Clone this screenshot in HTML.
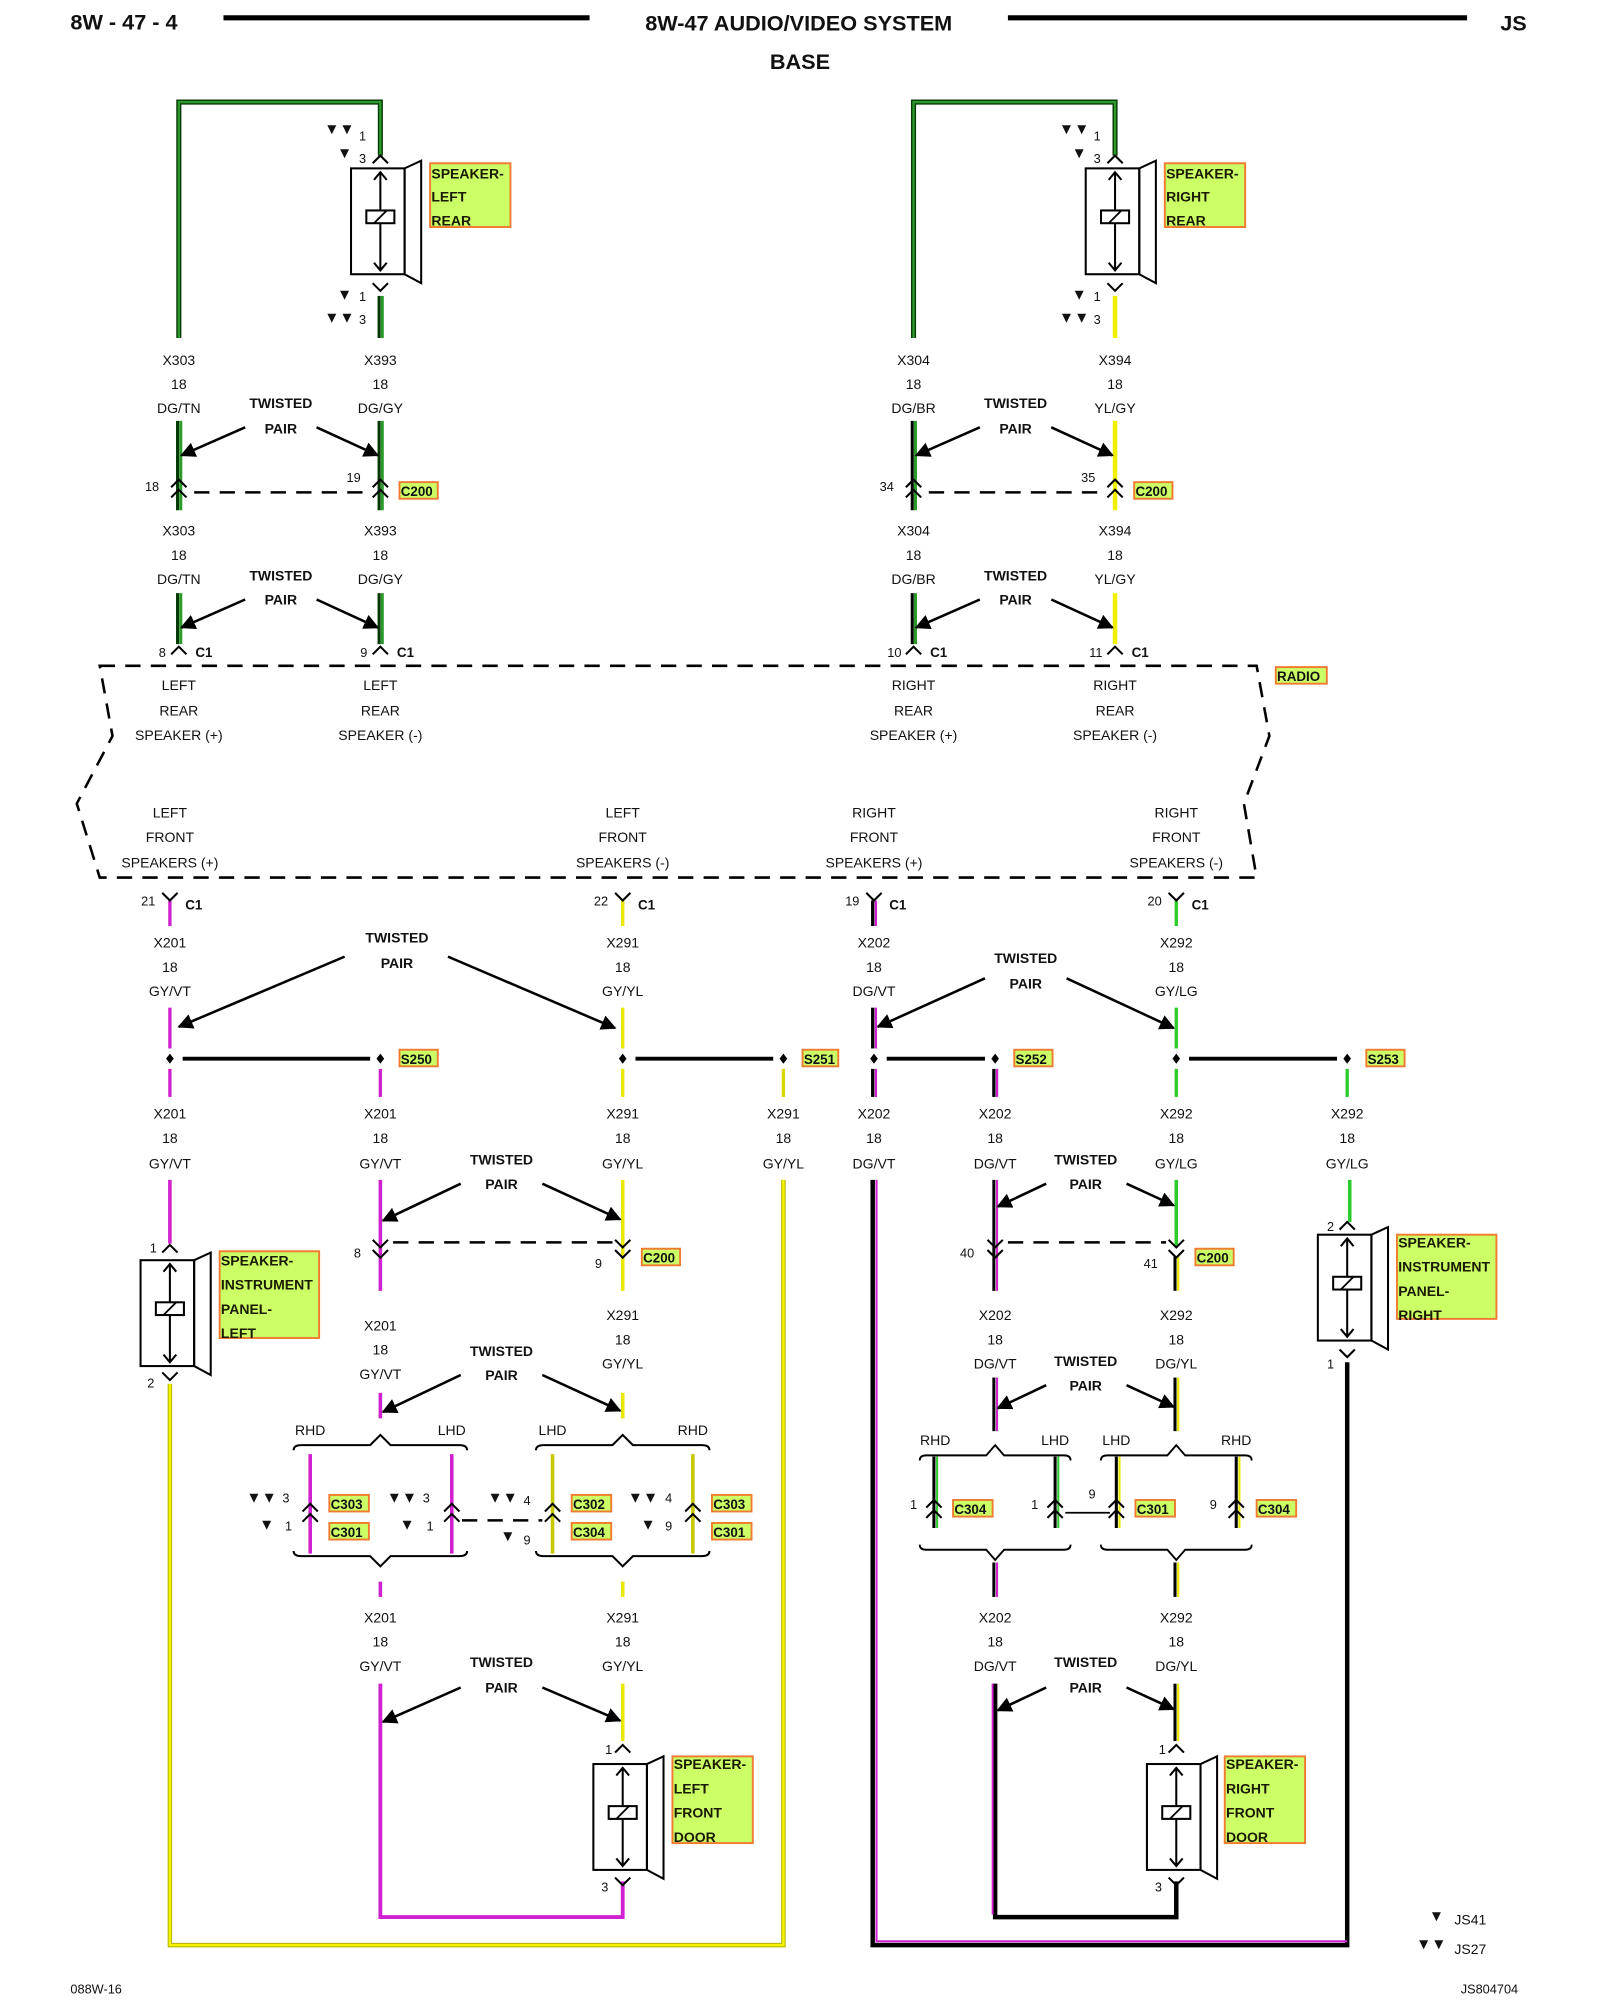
<!DOCTYPE html>
<html><head><meta charset="utf-8"><style>
html,body{margin:0;padding:0;background:#fff;}
svg{display:block;}
text{font-family:"Liberation Sans",sans-serif;font-size:11px;fill:#111;text-anchor:middle;}
.b{font-weight:bold;}
.h{font-weight:bold;font-size:17px;text-anchor:start;}
.l{text-anchor:start;}
.t{text-anchor:start;font-size:12px;}
.lb{font-weight:bold;font-size:11px;text-anchor:start;fill:#1a1a00;}
.sm{font-weight:bold;font-size:10.5px;text-anchor:start;fill:#111;}
.box{fill:#ccff66;stroke:#f07a30;stroke-width:1.5;}
.ar{stroke:#000;stroke-width:2;marker-end:url(#ah);}
.dash{stroke:#000;stroke-width:2;stroke-dasharray:12 8;fill:none;}
</style></head><body>
<svg width="1600" height="2000" viewBox="0 0 1254 1568" xmlns="http://www.w3.org/2000/svg">
<defs>
<marker id="ah" viewBox="0 0 10 10" refX="9" refY="5" markerWidth="6" markerHeight="6" orient="auto"><path d="M0,0 L10,5 L0,10 z" fill="#000"/></marker>
<g id="spk">
<rect x="-23" y="0" width="42" height="83" fill="none" stroke="#000" stroke-width="1.6"/>
<polygon points="19,0 32,-6 32,90 19,83" fill="none" stroke="#000" stroke-width="1.6"/>
<line x1="0" y1="3" x2="0" y2="80" stroke="#000" stroke-width="1.6"/>
<path d="M-5,9 L0,3 L5,9 M-5,74 L0,80 L5,74" fill="none" stroke="#000" stroke-width="1.6"/>
<rect x="-11" y="33" width="22" height="10" fill="#fff" stroke="#000" stroke-width="1.6"/>
<line x1="-5" y1="43" x2="5" y2="33" stroke="#000" stroke-width="1.4"/>
</g>
<path id="up" d="M-6,6 L0,0 L6,6" fill="none" stroke="#000" stroke-width="1.6"/>
<path id="dn" d="M-6,-6 L0,0 L6,-6" fill="none" stroke="#000" stroke-width="1.6"/>
<g id="brT"><path d="M-68,12 Q-68,8 -62,8 L-8,8 L0,0 L8,8 L62,8 Q68,8 68,12" fill="none" stroke="#000" stroke-width="1.6"/></g>
<g id="brB"><path d="M-68,-12 Q-68,-8 -62,-8 L-8,-8 L0,0 L8,-8 L62,-8 Q68,-8 68,-12" fill="none" stroke="#000" stroke-width="1.6"/></g>
</defs>

<!-- header -->
<text x="55" y="23" class="h">8W - 47 - 4</text>
<line x1="175" y1="14" x2="462" y2="14" stroke="#000" stroke-width="4"/>
<text x="626" y="24" class="b" style="font-size:17px">8W-47 AUDIO/VIDEO SYSTEM</text>
<line x1="790" y1="14" x2="1150" y2="14" stroke="#000" stroke-width="4"/>
<text x="1176" y="24" class="h">JS</text>
<text x="627" y="54" class="b" style="font-size:17px">BASE</text>

<!-- ===== LEFT REAR ===== -->
<polyline points="140,265 140,80 298,80 298,122" fill="none" stroke="#063806" stroke-width="4"/>
<polyline points="140,265 140,80 298,80 298,122" fill="none" stroke="#2b9a2b" stroke-width="1.8"/>
<g stroke-width="2.4">
<line x1="139" y1="330" x2="139" y2="400" stroke="#063806"/><line x1="141.5" y1="330" x2="141.5" y2="400" stroke="#2b9a2b"/>
<line x1="139" y1="465" x2="139" y2="505" stroke="#063806"/><line x1="141.5" y1="465" x2="141.5" y2="505" stroke="#2b9a2b"/>
<line x1="297" y1="232" x2="297" y2="265" stroke="#063806"/><line x1="299.5" y1="232" x2="299.5" y2="265" stroke="#2b9a2b"/>
<line x1="297" y1="330" x2="297" y2="400" stroke="#063806"/><line x1="299.5" y1="330" x2="299.5" y2="400" stroke="#2b9a2b"/>
<line x1="297" y1="465" x2="297" y2="505" stroke="#063806"/><line x1="299.5" y1="465" x2="299.5" y2="505" stroke="#2b9a2b"/>
</g>
<text x="254" y="105" class="t">▼▼</text><text x="284" y="110" style="font-size:10px">1</text>
<text x="264" y="124" class="t">▼</text><text x="284" y="128" style="font-size:10px">3</text>
<use href="#up" x="298" y="122"/>
<use href="#spk" x="298" y="132"/>
<use href="#dn" x="298" y="228"/>
<rect x="337" y="128" width="63" height="50" class="box"/>
<text x="338" y="140" class="lb">SPEAKER-</text><text x="338" y="158" class="lb">LEFT</text><text x="338" y="177" class="lb">REAR</text>
<text x="264" y="235" class="t">▼</text><text x="284" y="236" style="font-size:10px">1</text>
<text x="254" y="253" class="t">▼▼</text><text x="284" y="254" style="font-size:10px">3</text>

<text x="140" y="286">X303</text><text x="140" y="305">18</text><text x="140" y="324">DG/TN</text>
<text x="298" y="286">X393</text><text x="298" y="305">18</text><text x="298" y="324">DG/GY</text>
<text x="220" y="320" class="b">TWISTED</text><text x="220" y="340" class="b">PAIR</text>
<line x1="192" y1="335" x2="142" y2="357" class="ar"/><line x1="248" y1="335" x2="296" y2="357" class="ar"/>
<use href="#up" x="140" y="376"/><use href="#up" x="140" y="384"/>
<use href="#up" x="298" y="376"/><use href="#up" x="298" y="384"/>
<line x1="152" y1="386" x2="292" y2="386" class="dash"/>
<text x="119" y="385" style="font-size:10px">18</text><text x="277" y="378" style="font-size:10px">19</text>
<rect x="313" y="378" width="30" height="13" class="box"/><text x="314" y="389" class="sm">C200</text>
<text x="140" y="420">X303</text><text x="140" y="439">18</text><text x="140" y="458">DG/TN</text>
<text x="298" y="420">X393</text><text x="298" y="439">18</text><text x="298" y="458">DG/GY</text>
<text x="220" y="455" class="b">TWISTED</text><text x="220" y="474" class="b">PAIR</text>
<line x1="192" y1="470" x2="142" y2="492" class="ar"/><line x1="248" y1="470" x2="296" y2="492" class="ar"/>
<use href="#up" x="140" y="507"/><use href="#up" x="298" y="507"/>
<text x="127" y="515" style="font-size:10px">8</text><text x="153" y="515" class="sm">C1</text>
<text x="285" y="515" style="font-size:10px">9</text><text x="311" y="515" class="sm">C1</text>

<!-- ===== RIGHT REAR ===== -->
<polyline points="716,265 716,80 874,80 874,122" fill="none" stroke="#063806" stroke-width="4"/>
<polyline points="716,265 716,80 874,80 874,122" fill="none" stroke="#2b9a2b" stroke-width="1.8"/>
<g stroke-width="2.4">
<line x1="715" y1="330" x2="715" y2="400" stroke="#000"/><line x1="717.5" y1="330" x2="717.5" y2="400" stroke="#2b9a2b"/>
<line x1="715" y1="465" x2="715" y2="505" stroke="#000"/><line x1="717.5" y1="465" x2="717.5" y2="505" stroke="#2b9a2b"/>
<line x1="874" y1="232" x2="874" y2="265" stroke="#f0f000" stroke-width="3.5"/>
<line x1="874" y1="330" x2="874" y2="400" stroke="#f0f000" stroke-width="3.5"/>
<line x1="874" y1="465" x2="874" y2="505" stroke="#f0f000" stroke-width="3.5"/>
</g>
<text x="830" y="105" class="t">▼▼</text><text x="860" y="110" style="font-size:10px">1</text>
<text x="840" y="124" class="t">▼</text><text x="860" y="128" style="font-size:10px">3</text>
<use href="#up" x="874" y="122"/>
<use href="#spk" x="874" y="132"/>
<use href="#dn" x="874" y="228"/>
<rect x="913" y="128" width="63" height="50" class="box"/>
<text x="914" y="140" class="lb">SPEAKER-</text><text x="914" y="158" class="lb">RIGHT</text><text x="914" y="177" class="lb">REAR</text>
<text x="840" y="235" class="t">▼</text><text x="860" y="236" style="font-size:10px">1</text>
<text x="830" y="253" class="t">▼▼</text><text x="860" y="254" style="font-size:10px">3</text>
<text x="716" y="286">X304</text><text x="716" y="305">18</text><text x="716" y="324">DG/BR</text>
<text x="874" y="286">X394</text><text x="874" y="305">18</text><text x="874" y="324">YL/GY</text>
<text x="796" y="320" class="b">TWISTED</text><text x="796" y="340" class="b">PAIR</text>
<line x1="768" y1="335" x2="718" y2="357" class="ar"/><line x1="824" y1="335" x2="872" y2="357" class="ar"/>
<use href="#up" x="716" y="376"/><use href="#up" x="716" y="384"/>
<use href="#up" x="874" y="376"/><use href="#up" x="874" y="384"/>
<line x1="728" y1="386" x2="868" y2="386" class="dash"/>
<text x="695" y="385" style="font-size:10px">34</text><text x="853" y="378" style="font-size:10px">35</text>
<rect x="889" y="378" width="30" height="13" class="box"/><text x="890" y="389" class="sm">C200</text>
<text x="716" y="420">X304</text><text x="716" y="439">18</text><text x="716" y="458">DG/BR</text>
<text x="874" y="420">X394</text><text x="874" y="439">18</text><text x="874" y="458">YL/GY</text>
<text x="796" y="455" class="b">TWISTED</text><text x="796" y="474" class="b">PAIR</text>
<line x1="768" y1="470" x2="718" y2="492" class="ar"/><line x1="824" y1="470" x2="872" y2="492" class="ar"/>
<use href="#up" x="716" y="507"/><use href="#up" x="874" y="507"/>
<text x="701" y="515" style="font-size:10px">10</text><text x="729" y="515" class="sm">C1</text>
<text x="859" y="515" style="font-size:10px">11</text><text x="887" y="515" class="sm">C1</text>

<!-- ===== RADIO ===== -->
<path d="M78,522 L985,522 L995,577 L975,630 L985,688 L78,688 L60,630 L88,577 Z" class="dash" stroke-width="2.6"/>
<rect x="1000" y="523" width="40" height="13" class="box"/><text x="1001" y="534" class="sm">RADIO</text>
<text x="140" y="541">LEFT</text><text x="140" y="561">REAR</text><text x="140" y="580">SPEAKER (+)</text>
<text x="298" y="541">LEFT</text><text x="298" y="561">REAR</text><text x="298" y="580">SPEAKER (-)</text>
<text x="716" y="541">RIGHT</text><text x="716" y="561">REAR</text><text x="716" y="580">SPEAKER (+)</text>
<text x="874" y="541">RIGHT</text><text x="874" y="561">REAR</text><text x="874" y="580">SPEAKER (-)</text>
<text x="133" y="641">LEFT</text><text x="133" y="660">FRONT</text><text x="133" y="680">SPEAKERS (+)</text>
<text x="488" y="641">LEFT</text><text x="488" y="660">FRONT</text><text x="488" y="680">SPEAKERS (-)</text>
<text x="685" y="641">RIGHT</text><text x="685" y="660">FRONT</text><text x="685" y="680">SPEAKERS (+)</text>
<text x="922" y="641">RIGHT</text><text x="922" y="660">FRONT</text><text x="922" y="680">SPEAKERS (-)</text>

<!-- C1 front -->
<g stroke-width="2.6">
<line x1="133" y1="706" x2="133" y2="726" stroke="#d020d0"/>
<line x1="488" y1="706" x2="488" y2="726" stroke="#e8e800"/>
<line x1="684" y1="706" x2="684" y2="726" stroke="#000"/><line x1="686.5" y1="706" x2="686.5" y2="726" stroke="#d020d0" stroke-width="1.8"/>
<line x1="922" y1="706" x2="922" y2="726" stroke="#2ccc2c"/>
</g>
<use href="#dn" x="133" y="706"/><use href="#dn" x="488" y="706"/><use href="#dn" x="685" y="706"/><use href="#dn" x="922" y="706"/>
<text x="116" y="710" style="font-size:10px">21</text><text x="145" y="713" class="sm">C1</text>
<text x="471" y="710" style="font-size:10px">22</text><text x="500" y="713" class="sm">C1</text>
<text x="668" y="710" style="font-size:10px">19</text><text x="697" y="713" class="sm">C1</text>
<text x="905" y="710" style="font-size:10px">20</text><text x="934" y="713" class="sm">C1</text>

<text x="133" y="743">X201</text><text x="133" y="762">18</text><text x="133" y="781">GY/VT</text>
<text x="488" y="743">X291</text><text x="488" y="762">18</text><text x="488" y="781">GY/YL</text>
<text x="685" y="743">X202</text><text x="685" y="762">18</text><text x="685" y="781">DG/VT</text>
<text x="922" y="743">X292</text><text x="922" y="762">18</text><text x="922" y="781">GY/LG</text>
<text x="311" y="739" class="b">TWISTED</text><text x="311" y="759" class="b">PAIR</text>
<line x1="270" y1="750" x2="140" y2="805" class="ar"/><line x1="351" y1="750" x2="482" y2="806" class="ar"/>
<text x="804" y="755" class="b">TWISTED</text><text x="804" y="775" class="b">PAIR</text>
<line x1="772" y1="767" x2="688" y2="805" class="ar"/><line x1="836" y1="767" x2="920" y2="806" class="ar"/>

<!-- wires around splices -->
<g stroke-width="2.6">
<line x1="133" y1="790" x2="133" y2="822" stroke="#d020d0"/><line x1="133" y1="838" x2="133" y2="860" stroke="#d020d0"/>
<line x1="298" y1="838" x2="298" y2="860" stroke="#d020d0"/>
<line x1="488" y1="790" x2="488" y2="822" stroke="#e8e800"/><line x1="488" y1="838" x2="488" y2="860" stroke="#e8e800"/>
<line x1="614" y1="838" x2="614" y2="860" stroke="#d8d800"/>
<line x1="684" y1="790" x2="684" y2="822" stroke="#000"/><line x1="686.5" y1="790" x2="686.5" y2="822" stroke="#d020d0" stroke-width="1.8"/>
<line x1="684" y1="838" x2="684" y2="860" stroke="#000"/><line x1="686.5" y1="838" x2="686.5" y2="860" stroke="#d020d0" stroke-width="1.8"/>
<line x1="779" y1="838" x2="779" y2="860" stroke="#000"/><line x1="781.5" y1="838" x2="781.5" y2="860" stroke="#d020d0" stroke-width="1.8"/>
<line x1="922" y1="790" x2="922" y2="822" stroke="#2ccc2c"/><line x1="922" y1="838" x2="922" y2="860" stroke="#2ccc2c"/>
<line x1="1056" y1="838" x2="1056" y2="860" stroke="#2ccc2c"/>
</g>
<g stroke="#000" stroke-width="3">
<line x1="143" y1="830" x2="290" y2="830"/><line x1="498" y1="830" x2="606" y2="830"/>
<line x1="695" y1="830" x2="772" y2="830"/><line x1="932" y1="830" x2="1048" y2="830"/>
</g>
<g fill="#000">
<path d="M133,826 L136,830 L133,834 L130,830Z"/><path d="M298,826 L301,830 L298,834 L295,830Z"/>
<path d="M488,826 L491,830 L488,834 L485,830Z"/><path d="M614,826 L617,830 L614,834 L611,830Z"/>
<path d="M685,826 L688,830 L685,834 L682,830Z"/><path d="M780,826 L783,830 L780,834 L777,830Z"/>
<path d="M922,826 L925,830 L922,834 L919,830Z"/><path d="M1056,826 L1059,830 L1056,834 L1053,830Z"/>
</g>
<rect x="313" y="823" width="30" height="13" class="box"/><text x="314" y="834" class="sm">S250</text>
<rect x="629" y="823" width="28" height="13" class="box"/><text x="630" y="834" class="sm">S251</text>
<rect x="795" y="823" width="30" height="13" class="box"/><text x="796" y="834" class="sm">S252</text>
<rect x="1071" y="823" width="30" height="13" class="box"/><text x="1072" y="834" class="sm">S253</text>

<text x="133" y="877">X201</text><text x="133" y="896">18</text><text x="133" y="916">GY/VT</text>
<text x="298" y="877">X201</text><text x="298" y="896">18</text><text x="298" y="916">GY/VT</text>
<text x="488" y="877">X291</text><text x="488" y="896">18</text><text x="488" y="916">GY/YL</text>
<text x="614" y="877">X291</text><text x="614" y="896">18</text><text x="614" y="916">GY/YL</text>
<text x="685" y="877">X202</text><text x="685" y="896">18</text><text x="685" y="916">DG/VT</text>
<text x="780" y="877">X202</text><text x="780" y="896">18</text><text x="780" y="916">DG/VT</text>
<text x="922" y="877">X292</text><text x="922" y="896">18</text><text x="922" y="916">GY/LG</text>
<text x="1056" y="877">X292</text><text x="1056" y="896">18</text><text x="1056" y="916">GY/LG</text>

<!-- big loops -->
<polyline points="133,1085 133,1525 614,1525 614,925" fill="none" stroke="#b8b800" stroke-width="3.5"/>
<polyline points="133,1085 133,1525 614,1525 614,925" fill="none" stroke="#f4f400" stroke-width="1.8"/>
<polyline points="684,925 684,1525 1056,1525 1056,1068" fill="none" stroke="#000" stroke-width="3.5"/>
<polyline points="687,925 687,1522 1056,1522" fill="none" stroke="#d020d0" stroke-width="1.6"/>
<line x1="1058" y1="925" x2="1058" y2="958" stroke="#2ccc2c" stroke-width="2.8"/>
<!-- left IP speaker -->
<line x1="133" y1="925" x2="133" y2="975" stroke="#d020d0" stroke-width="2.8"/>
<use href="#up" x="133" y="976"/>
<text x="120" y="982" style="font-size:10px">1</text>
<use href="#spk" x="133" y="988"/>
<use href="#dn" x="133" y="1082"/>
<text x="118" y="1088" style="font-size:10px">2</text>
<rect x="172" y="981" width="78" height="68" class="box"/>
<text x="173" y="992" class="lb">SPEAKER-</text><text x="173" y="1011" class="lb">INSTRUMENT</text><text x="173" y="1030" class="lb">PANEL-</text><text x="173" y="1049" class="lb">LEFT</text>
<!-- right IP speaker -->
<use href="#up" x="1056" y="958"/>
<text x="1043" y="965" style="font-size:10px">2</text>
<use href="#spk" x="1056" y="968"/>
<use href="#dn" x="1056" y="1064"/>
<text x="1043" y="1073" style="font-size:10px">1</text>
<rect x="1095" y="968" width="78" height="66" class="box"/>
<text x="1096" y="978" class="lb">SPEAKER-</text><text x="1096" y="997" class="lb">INSTRUMENT</text><text x="1096" y="1016" class="lb">PANEL-</text><text x="1096" y="1035" class="lb">RIGHT</text>

<!-- left center chain -->
<g stroke-width="2.8">
<line x1="298" y1="925" x2="298" y2="1012" stroke="#d020d0"/>
<line x1="298" y1="1092" x2="298" y2="1112" stroke="#d020d0"/>
<line x1="298" y1="1240" x2="298" y2="1252" stroke="#d020d0"/>
<line x1="488" y1="925" x2="488" y2="1012" stroke="#e8e800"/>
<line x1="488" y1="1092" x2="488" y2="1112" stroke="#e8e800"/>
<line x1="488" y1="1240" x2="488" y2="1252" stroke="#e8e800"/>
<line x1="243" y1="1140" x2="243" y2="1218" stroke="#d020d0"/>
<line x1="354" y1="1140" x2="354" y2="1218" stroke="#d020d0"/>
<line x1="433" y1="1140" x2="433" y2="1218" stroke="#c8c800"/>
<line x1="543" y1="1140" x2="543" y2="1218" stroke="#c8c800"/>
</g>
<polyline points="298,1320 298,1503 488,1503 488,1475" fill="none" stroke="#d020d0" stroke-width="3"/>
<line x1="488" y1="1320" x2="488" y2="1365" stroke="#e8e800" stroke-width="2.8"/>
<text x="393" y="913" class="b">TWISTED</text><text x="393" y="932" class="b">PAIR</text>
<line x1="361" y1="928" x2="300" y2="957" class="ar"/><line x1="425" y1="928" x2="486" y2="956" class="ar"/>
<use href="#dn" x="298" y="978"/><use href="#dn" x="298" y="986"/>
<use href="#dn" x="488" y="978"/><use href="#dn" x="488" y="986"/>
<line x1="308" y1="974" x2="480" y2="974" class="dash"/>
<text x="280" y="986" style="font-size:10px">8</text><text x="469" y="994" style="font-size:10px">9</text>
<rect x="503" y="979" width="30" height="13" class="box"/><text x="504" y="990" class="sm">C200</text>
<text x="298" y="1043">X201</text><text x="298" y="1062">18</text><text x="298" y="1081">GY/VT</text>
<text x="488" y="1035">X291</text><text x="488" y="1054">18</text><text x="488" y="1073">GY/YL</text>
<text x="393" y="1063" class="b">TWISTED</text><text x="393" y="1082" class="b">PAIR</text>
<line x1="361" y1="1078" x2="300" y2="1107" class="ar"/><line x1="425" y1="1078" x2="486" y2="1106" class="ar"/>
<use href="#brT" x="298" y="1125"/><use href="#brT" x="488" y="1125"/>
<use href="#brB" x="298" y="1228"/><use href="#brB" x="488" y="1228"/>
<text x="243" y="1125">RHD</text><text x="354" y="1125">LHD</text><text x="433" y="1125">LHD</text><text x="543" y="1125">RHD</text>
<use href="#up" x="243" y="1179"/><use href="#up" x="243" y="1187"/>
<use href="#up" x="354" y="1179"/><use href="#up" x="354" y="1187"/>
<use href="#up" x="433" y="1179"/><use href="#up" x="433" y="1187"/>
<use href="#up" x="543" y="1179"/><use href="#up" x="543" y="1187"/>
<line x1="362" y1="1192" x2="425" y2="1192" class="dash" stroke-dasharray="10 6" stroke-width="1.6"/>
<text x="193" y="1178" class="t">▼▼</text><text x="224" y="1178" style="font-size:10px">3</text>
<text x="203" y="1199" class="t">▼</text><text x="226" y="1200" style="font-size:10px">1</text>
<text x="303" y="1178" class="t">▼▼</text><text x="334" y="1178" style="font-size:10px">3</text>
<text x="313" y="1199" class="t">▼</text><text x="337" y="1200" style="font-size:10px">1</text>
<text x="382" y="1178" class="t">▼▼</text><text x="413" y="1180" style="font-size:10px">4</text>
<text x="392" y="1208" class="t">▼</text><text x="413" y="1211" style="font-size:10px">9</text>
<text x="492" y="1178" class="t">▼▼</text><text x="524" y="1178" style="font-size:10px">4</text>
<text x="502" y="1199" class="t">▼</text><text x="524" y="1200" style="font-size:10px">9</text>
<rect x="258" y="1172" width="31" height="13" class="box"/><text x="259" y="1183" class="sm">C303</text>
<rect x="258" y="1194" width="31" height="13" class="box"/><text x="259" y="1205" class="sm">C301</text>
<rect x="448" y="1172" width="31" height="13" class="box"/><text x="449" y="1183" class="sm">C302</text>
<rect x="448" y="1194" width="31" height="13" class="box"/><text x="449" y="1205" class="sm">C304</text>
<rect x="558" y="1172" width="31" height="13" class="box"/><text x="559" y="1183" class="sm">C303</text>
<rect x="558" y="1194" width="31" height="13" class="box"/><text x="559" y="1205" class="sm">C301</text>
<text x="298" y="1272">X201</text><text x="298" y="1291">18</text><text x="298" y="1310">GY/VT</text>
<text x="488" y="1272">X291</text><text x="488" y="1291">18</text><text x="488" y="1310">GY/YL</text>
<text x="393" y="1307" class="b">TWISTED</text><text x="393" y="1327" class="b">PAIR</text>
<line x1="361" y1="1323" x2="300" y2="1350" class="ar"/><line x1="425" y1="1323" x2="486" y2="1349" class="ar"/>
<use href="#up" x="488" y="1368"/><text x="477" y="1375" style="font-size:10px">1</text>
<use href="#spk" x="488" y="1383"/>
<use href="#dn" x="488" y="1478"/><text x="474" y="1483" style="font-size:10px">3</text>
<rect x="527" y="1377" width="63" height="68" class="box"/>
<text x="528" y="1387" class="lb">SPEAKER-</text><text x="528" y="1406" class="lb">LEFT</text><text x="528" y="1425" class="lb">FRONT</text><text x="528" y="1444" class="lb">DOOR</text>

<!-- right center chain -->
<g stroke-width="2.4">
<line x1="779" y1="925" x2="779" y2="1012" stroke="#000"/><line x1="781.5" y1="925" x2="781.5" y2="1012" stroke="#d020d0" stroke-width="1.6"/>
<line x1="779" y1="1080" x2="779" y2="1122" stroke="#000"/><line x1="781.5" y1="1080" x2="781.5" y2="1122" stroke="#d020d0" stroke-width="1.6"/>
<line x1="779" y1="1225" x2="779" y2="1252" stroke="#000"/><line x1="781.5" y1="1225" x2="781.5" y2="1252" stroke="#d020d0" stroke-width="1.6"/>
<line x1="922" y1="925" x2="922" y2="978" stroke="#2ccc2c" stroke-width="2.8"/>
<line x1="921" y1="985" x2="921" y2="1012" stroke="#000"/><line x1="923.5" y1="985" x2="923.5" y2="1012" stroke="#e8e800" stroke-width="1.8"/>
<line x1="921" y1="1080" x2="921" y2="1122" stroke="#000"/><line x1="923.5" y1="1080" x2="923.5" y2="1122" stroke="#e8e800" stroke-width="1.8"/>
<line x1="921" y1="1225" x2="921" y2="1252" stroke="#000"/><line x1="923.5" y1="1225" x2="923.5" y2="1252" stroke="#e8e800" stroke-width="1.8"/>
<line x1="732" y1="1142" x2="732" y2="1198" stroke="#000"/><line x1="734.5" y1="1142" x2="734.5" y2="1198" stroke="#2ccc2c" stroke-width="1.6"/>
<line x1="827" y1="1142" x2="827" y2="1198" stroke="#000"/><line x1="829.5" y1="1142" x2="829.5" y2="1198" stroke="#2ccc2c" stroke-width="1.6"/>
<line x1="875" y1="1142" x2="875" y2="1198" stroke="#000"/><line x1="877.5" y1="1142" x2="877.5" y2="1198" stroke="#e8e800" stroke-width="1.6"/>
<line x1="969" y1="1142" x2="969" y2="1198" stroke="#000"/><line x1="971.5" y1="1142" x2="971.5" y2="1198" stroke="#e8e800" stroke-width="1.6"/>
</g>
<polyline points="780,1320 780,1503 922,1503 922,1475" fill="none" stroke="#000" stroke-width="3.5"/>
<line x1="778" y1="1320" x2="778" y2="1501" stroke="#d020d0" stroke-width="1.5"/>
<line x1="921" y1="1320" x2="921" y2="1365" stroke="#000" stroke-width="2.4"/><line x1="923.5" y1="1320" x2="923.5" y2="1365" stroke="#e8e800" stroke-width="1.8"/>
<text x="851" y="913" class="b">TWISTED</text><text x="851" y="932" class="b">PAIR</text>
<line x1="820" y1="928" x2="782" y2="946" class="ar"/><line x1="883" y1="928" x2="920" y2="945" class="ar"/>
<use href="#dn" x="780" y="978"/><use href="#dn" x="780" y="986"/>
<use href="#dn" x="922" y="978"/><use href="#dn" x="922" y="986"/>
<line x1="790" y1="974" x2="914" y2="974" class="dash"/>
<text x="758" y="986" style="font-size:10px">40</text><text x="902" y="994" style="font-size:10px">41</text>
<rect x="937" y="979" width="30" height="13" class="box"/><text x="938" y="990" class="sm">C200</text>
<text x="780" y="1035">X202</text><text x="780" y="1054">18</text><text x="780" y="1073">DG/VT</text>
<text x="922" y="1035">X292</text><text x="922" y="1054">18</text><text x="922" y="1073">DG/YL</text>
<text x="851" y="1071" class="b">TWISTED</text><text x="851" y="1090" class="b">PAIR</text>
<line x1="820" y1="1086" x2="782" y2="1104" class="ar"/><line x1="883" y1="1086" x2="920" y2="1103" class="ar"/>
<g transform="translate(780,1133) scale(0.87,1)"><use href="#brT"/></g>
<g transform="translate(922,1133) scale(0.87,1)"><use href="#brT"/></g>
<g transform="translate(780,1223) scale(0.87,1)"><use href="#brB"/></g>
<g transform="translate(922,1223) scale(0.87,1)"><use href="#brB"/></g>
<text x="733" y="1133">RHD</text><text x="827" y="1133">LHD</text><text x="875" y="1133">LHD</text><text x="969" y="1133">RHD</text>
<use href="#up" x="732" y="1176"/><use href="#up" x="732" y="1184"/>
<use href="#up" x="827" y="1176"/><use href="#up" x="827" y="1184"/>
<use href="#up" x="875" y="1176"/><use href="#up" x="875" y="1184"/>
<use href="#up" x="969" y="1176"/><use href="#up" x="969" y="1184"/>
<line x1="835" y1="1186" x2="870" y2="1186" stroke="#000" stroke-width="1.4"/>
<text x="716" y="1183" style="font-size:10px">1</text><text x="811" y="1183" style="font-size:10px">1</text>
<text x="856" y="1175" style="font-size:10px">9</text><text x="951" y="1183" style="font-size:10px">9</text>
<rect x="747" y="1176" width="31" height="13" class="box"/><text x="748" y="1187" class="sm">C304</text>
<rect x="890" y="1176" width="31" height="13" class="box"/><text x="891" y="1187" class="sm">C301</text>
<rect x="985" y="1176" width="31" height="13" class="box"/><text x="986" y="1187" class="sm">C304</text>
<text x="780" y="1272">X202</text><text x="780" y="1291">18</text><text x="780" y="1310">DG/VT</text>
<text x="922" y="1272">X292</text><text x="922" y="1291">18</text><text x="922" y="1310">DG/YL</text>
<text x="851" y="1307" class="b">TWISTED</text><text x="851" y="1327" class="b">PAIR</text>
<line x1="820" y1="1323" x2="782" y2="1341" class="ar"/><line x1="883" y1="1323" x2="920" y2="1340" class="ar"/>
<use href="#up" x="922" y="1368"/><text x="911" y="1375" style="font-size:10px">1</text>
<use href="#spk" x="922" y="1383"/>
<use href="#dn" x="922" y="1478"/><text x="908" y="1483" style="font-size:10px">3</text>
<rect x="960" y="1377" width="63" height="68" class="box"/>
<text x="961" y="1387" class="lb">SPEAKER-</text><text x="961" y="1406" class="lb">RIGHT</text><text x="961" y="1425" class="lb">FRONT</text><text x="961" y="1444" class="lb">DOOR</text>

<!-- legend / footer -->
<text x="1120" y="1506" class="t">▼</text><text x="1140" y="1509" class="l">JS41</text>
<text x="1110" y="1528" class="t">▼▼</text><text x="1140" y="1532" class="l">JS27</text>
<text x="55" y="1563" class="l" style="font-size:10px">088W-16</text>
<text x="1145" y="1563" class="l" style="font-size:10px">JS804704</text>
</svg>
</body></html>
